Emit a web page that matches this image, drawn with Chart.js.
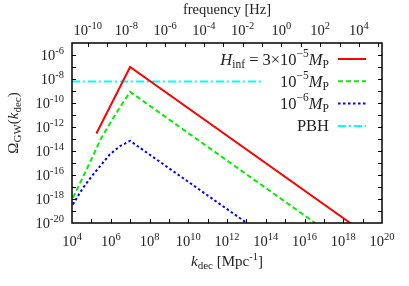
<!DOCTYPE html>
<html>
<head>
<meta charset="utf-8">
<script src="https://cdn.jsdelivr.net/npm/chart.js@4"></script>
<style>
  html, body { margin: 0; padding: 0; background: #fff; }
  #wrap { width: 409px; height: 286px; }
</style>
</head>
<body>
<div id="wrap"><canvas id="gwChart" width="409" height="286"></canvas></div>
<script>
// values (k in Mpc^-1, Omega_GW dimensionless)
const redK = [1.82e5, 1e7, 2.3e18];
const redOmega = [2.9e-13, 1e-7, 1e-20];

const greenK = [1.12e4, 3.16e4, 1e5, 3.16e5, 1e6, 3.16e6, 1e7, 3.55e16];
const greenOmega = [1.26e-18, 4e-17, 2e-15, 1.12e-13, 2.5e-12, 5e-11, 8.5e-10, 1e-20];

const blueK = [1.12e4, 2e4, 3.7e4, 1.23e5, 3.3e5, 8.9e5, 2.95e6, 1e7, 1.05e13];
const blueOmega = [3.5e-19, 1.7e-18, 8.5e-18, 1.1e-16, 7.4e-16, 5.1e-15, 2.5e-14, 7e-14, 1e-20];

const pbhK = [1e4, 7.5e13];
const pbhOmega = [6.2e-9, 6.2e-9];

// tick labels (exponents of 10)
const kTickExp = [4, 6, 8, 10, 12, 14, 16, 18, 20];
const omegaTickExp = [-20, -18, -16, -14, -12, -10, -8, -6];
const freqTickExp = [-10, -8, -6, -4, -2, 0, 2, 4];

const HZ_PER_MPC = 1.546e-15;
const K_MIN = 1e4, K_MAX = 1e20;

const SERIF = '"Liberation Serif", "DejaVu Serif", serif';
const F = (size, style) => (style ? style + ' ' : '') + size + 'px ' + SERIF;

const toPoints = (xs, ys) => xs.map((x, i) => ({ x: x, y: ys[i] }));

const series = [
    { label: 'H_inf = 3x10^-5 M_P', k: redK, omega: redOmega, color: '#ff0000', dash: [] },
    { label: '10^-5 M_P', k: greenK, omega: greenOmega, color: '#00f000', dash: [5, 3] },
    { label: '10^-6 M_P', k: blueK, omega: blueOmega, color: '#0000ff', dash: [2.5, 2.5] },
    { label: 'PBH', k: pbhK, omega: pbhOmega, color: '#00ffff', dash: [8, 3, 2, 3] },
];

// draws a list of text runs [{t, f, dy}] on one baseline
const drawRuns = (ctx, parts, x, y, align) => {
    let total = 0;
    parts.forEach((p) => { ctx.font = p.f; total += ctx.measureText(p.t).width; });
    let cx = align === 'right' ? x - total : align === 'center' ? x - total / 2 : x;
    ctx.textAlign = 'left';
    ctx.textBaseline = 'alphabetic';
    parts.forEach((p) => {
        ctx.font = p.f;
        ctx.fillText(p.t, cx, y + (p.dy || 0));
        cx += ctx.measureText(p.t).width;
    });
};

const pow10 = (e) => [
    { t: '10', f: F(14.5) },
    { t: String(e), f: F(10.5), dy: -6.5 },
];

const decorations = {
    id: 'decorations',
    afterDraw(chart) {
        const { ctx, chartArea: a, scales } = chart;
        const xs = scales.x, xf = scales.xFreq, ys = scales.y;
        ctx.save();
        ctx.fillStyle = '#222';
        ctx.strokeStyle = '#000';

        // ticks, every decade, pointing inwards
        ctx.lineWidth = 1;
        ctx.beginPath();
        for (let e = 5; e < 20; e++) {
            const px = Math.round(xs.getPixelForValue(10 ** e)) + 0.5;
            ctx.moveTo(px, a.bottom); ctx.lineTo(px, a.bottom - 4);
        }
        for (let e = -11; e <= 6; e++) {
            const v = 10 ** e;
            if (v <= xf.min || v >= xf.max) continue;
            const px = Math.round(xf.getPixelForValue(v)) + 0.5;
            ctx.moveTo(px, a.top); ctx.lineTo(px, a.top + 4);
        }
        for (let e = -19; e < -5; e++) {
            const py = Math.round(ys.getPixelForValue(10 ** e)) + 0.5;
            ctx.moveTo(a.left, py); ctx.lineTo(a.left + 4, py);
            ctx.moveTo(a.right, py); ctx.lineTo(a.right - 4, py);
        }
        ctx.stroke();

        // frame
        ctx.lineWidth = 1.5;
        ctx.strokeRect(a.left, a.top, a.right - a.left, a.bottom - a.top);

        // tick labels
        kTickExp.forEach((e) => {
            drawRuns(ctx, pow10(e), xs.getPixelForValue(10 ** e), a.bottom + 23, 'center');
        });
        omegaTickExp.forEach((e) => {
            drawRuns(ctx, pow10(e), a.left - 8, ys.getPixelForValue(10 ** e) + 5, 'right');
        });
        freqTickExp.forEach((e) => {
            drawRuns(ctx, pow10(e), xf.getPixelForValue(10 ** e), a.top - 8, 'center');
        });

        // axis titles
        drawRuns(ctx, [{ t: 'frequency [Hz]', f: F(14.5) }], (a.left + a.right) / 2, 14, 'center');
        drawRuns(ctx, [
            { t: 'k', f: F(15, 'italic') },
            { t: 'dec', f: F(11), dy: 3 },
            { t: ' [Mpc', f: F(15) },
            { t: '-1', f: F(10.5), dy: -6 },
            { t: ']', f: F(15) },
        ], (a.left + a.right) / 2, a.bottom + 43, 'center');

        ctx.save();
        ctx.translate(18, 123);
        ctx.rotate(-Math.PI / 2);
        drawRuns(ctx, [
            { t: 'Ω', f: F(15) },
            { t: 'GW', f: F(11), dy: 3 },
            { t: '(', f: F(15) },
            { t: 'k', f: F(15, 'italic') },
            { t: 'dec', f: F(11), dy: 3 },
            { t: ')', f: F(15) },
        ], 0, 0, 'center');
        ctx.restore();

        // legend
        const mp = (e) => [
            { t: '10', f: F(16.5) },
            { t: '−' + e, f: F(11.5), dy: -8 },
            { t: 'M', f: F(16.5, 'italic') },
            { t: 'P', f: F(11.5), dy: 3 },
        ];
        const rows = [
            [{ t: 'H', f: F(16.5, 'italic') }, { t: 'inf', f: F(11.5), dy: 3 }, { t: ' = 3×', f: F(16.5) }].concat(mp(5)),
            mp(5),
            mp(6),
            [{ t: 'PBH', f: F(16.5) }],
        ];
        rows.forEach((parts, i) => {
            const ry = 59 + i * 22.3;
            drawRuns(ctx, parts, 329, ry + 5.5, 'right');
            const s = series[i];
            ctx.beginPath();
            ctx.lineWidth = 2;
            ctx.strokeStyle = s.color;
            ctx.setLineDash(s.dash);
            ctx.moveTo(338, ry); ctx.lineTo(366, ry);
            ctx.stroke();
        });
        ctx.restore();
    },
};

const ctx = document.getElementById('gwChart').getContext('2d');

new Chart(ctx, {
    type: 'line',
    data: {
        datasets: series.map((s) => ({
            label: s.label,
            data: toPoints(s.k, s.omega),
            borderColor: s.color,
            borderWidth: 2,
            borderDash: s.dash,
            pointRadius: 0,
            fill: false,
            tension: 0,
        })),
    },
    options: {
        responsive: false,
        animation: false,
        layout: { padding: { left: 72, top: 43, right: 27, bottom: 63 } },
        plugins: { legend: { display: false }, tooltip: { enabled: false } },
        scales: {
            x: { type: 'logarithmic', display: false, min: K_MIN, max: K_MAX },
            xFreq: {
                type: 'logarithmic', display: false, position: 'top',
                min: K_MIN * HZ_PER_MPC, max: K_MAX * HZ_PER_MPC,
            },
            y: { type: 'logarithmic', display: false, min: 1e-20, max: 1e-5 },
        },
    },
    plugins: [decorations],
});
</script>
</body>
</html>
